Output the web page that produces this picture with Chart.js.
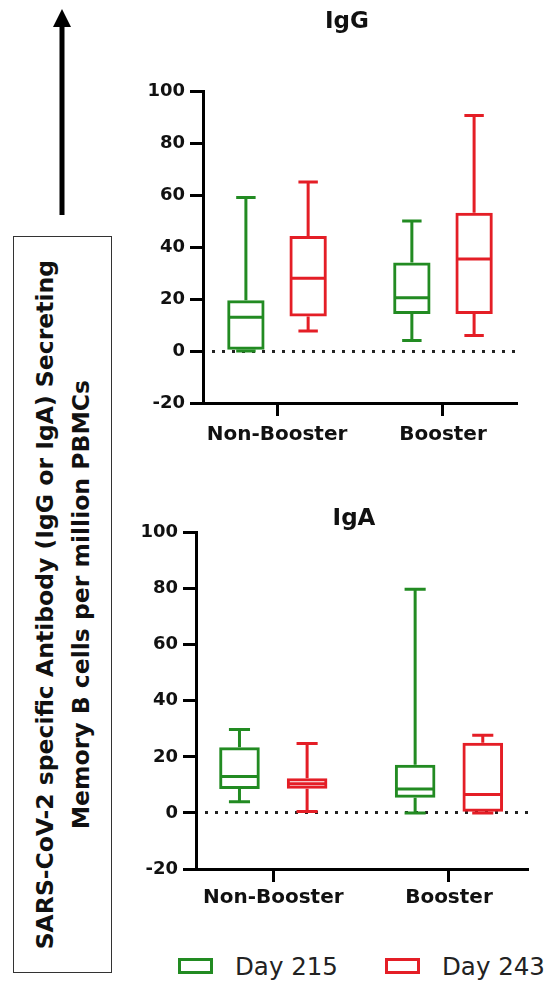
<!DOCTYPE html>
<html>
<head>
<meta charset="utf-8">
<script src="https://cdn.jsdelivr.net/npm/chart.js@4.4.1/dist/chart.umd.min.js"></script>
<style>
    body { margin: 0; width: 550px; height: 984px; background: #fff; position: relative; overflow: hidden; font-family: "DejaVu Sans", sans-serif; }
    canvas { position: absolute; }
    #chartIgG { left: 140px; top: 0px; }
    #chartIgA { left: 130px; top: 480px; }
    #arrow { position: absolute; left: 0; top: 0; }
    #axisNote {
        position: absolute; left: 13px; top: 236px; width: 99px; height: 737px;
        box-sizing: border-box; border: 1.5px solid #333;
        display: flex; align-items: center; justify-content: center;
    }
    #axisNote span {
        writing-mode: vertical-rl; transform: rotate(180deg);
        font-weight: bold; font-size: 23.5px; line-height: 36px; color: #111; text-align: center; white-space: nowrap;
    }
    .legend-item { position: absolute; top: 952px; height: 28px; display: flex; align-items: center; font-size: 24.5px; color: #222; }
    .legend-box { width: 35px; height: 16px; box-sizing: border-box; border: 3px solid; margin-right: 22px; }
</style>
</head>
<body>
<svg id="arrow" width="130" height="230">
    <line x1="62" y1="215" x2="62" y2="24" stroke="#000" stroke-width="5"/>
    <polygon points="53,27 71,27 62,9" fill="#000"/>
</svg>
<div id="axisNote"><span>SARS-CoV-2 specific Antibody (IgG or IgA) Secreting<br>Memory B cells per million PBMCs</span></div>

<canvas id="chartIgG" width="390" height="454"></canvas>
<canvas id="chartIgA" width="410" height="434"></canvas>

<div class="legend-item" style="left:178px"><div class="legend-box" id="box215"></div><span id="lab215"></span></div>
<div class="legend-item" style="left:385px"><div class="legend-box" id="box243"></div><span id="lab243"></span></div>

<script>
const groups = ['Non-Booster', 'Booster'];
const days = ['Day 215', 'Day 243'];
const yTicks = [-20, 0, 20, 40, 60, 80, 100];

// box summaries per group: [min, q1, median, q3, max]
const igGDay215 = [[0, 0.5, 13, 19.5, 59], [4, 14.2, 20.5, 34, 50]];
const igGDay243 = [[7.7, 13.3, 28, 44.2, 65], [6, 14.2, 35.4, 53.2, 90.6]];
const igADay215 = [[4, 8.5, 13, 23.4, 29.8], [0, 5.4, 8.5, 17.2, 79.8]];
const igADay243 = [[0.5, 8.6, 10.4, 12.4, 24.8], [0, 0.4, 6.6, 25, 27.7]];

const GREEN = '#228B22';
const RED = '#E41E26';
const INK = '#111';

// median line + whiskers on top of the floating bars
const boxWhiskers = {
    id: 'boxWhiskers',
    afterDatasetsDraw(chart) {
        const ctx = chart.ctx;
        const yScale = chart.scales.y;
        chart.data.datasets.forEach((ds, di) => {
            const meta = chart.getDatasetMeta(di);
            meta.data.forEach((bar, i) => {
                const [min, q1, med, q3, max] = ds.stats[i];
                const half = bar.width / 2 - ds.borderWidth / 2;
                const cap = bar.width * 0.26;
                const py = (v) => yScale.getPixelForValue(v);
                ctx.save();
                ctx.strokeStyle = ds.borderColor;
                ctx.lineWidth = ds.borderWidth;
                ctx.beginPath();
                ctx.moveTo(bar.x - half, py(med));
                ctx.lineTo(bar.x + half, py(med));
                ctx.moveTo(bar.x, py(q3));
                ctx.lineTo(bar.x, py(max));
                ctx.moveTo(bar.x - cap, py(max));
                ctx.lineTo(bar.x + cap, py(max));
                ctx.moveTo(bar.x, py(q1));
                ctx.lineTo(bar.x, py(min));
                ctx.moveTo(bar.x - cap, py(min));
                ctx.lineTo(bar.x + cap, py(min));
                ctx.stroke();
                ctx.restore();
            });
        });
    }
};

// the original titles sit a little off the centre of the canvas
const titleNudge = {
    id: 'titleNudge',
    afterLayout(chart, args, opts) {
        const t = chart.titleBlock;
        if (t) {
            t.left += opts.dx;
            t.right += opts.dx;
        }
    }
};

const toBoxes = (stats) => stats.map((s, i) => ({x: i, y: [s[1], s[3]]}));

const makeDataset = (label, stats, color) => ({
    label: label,
    stats: stats,
    data: toBoxes(stats),
    borderColor: color,
    backgroundColor: 'rgba(0,0,0,0)',
    borderWidth: 3,
    borderSkipped: false
});

const renderBoxChart = (id, title, series215, series243, cfg) => {
    const ctx = document.getElementById(id);
    new Chart(ctx, {
        type: 'bar',
        data: {
            datasets: [
                makeDataset(days[0], series215, GREEN),
                makeDataset(days[1], series243, RED)
            ]
        },
        options: {
            responsive: false,
            animation: false,
            devicePixelRatio: 1,
            categoryPercentage: cfg.catPct,
            barPercentage: 0.6,
            layout: {padding: cfg.padding},
            plugins: {
                legend: {display: false},
                tooltip: {enabled: false},
                titleNudge: {dx: cfg.titleShift},
                title: {
                    display: true,
                    text: title,
                    color: INK,
                    font: {family: 'DejaVu Sans', size: 23, weight: 'bold'},
                    padding: cfg.titlePadding
                }
            },
            scales: {
                x: {
                    type: 'linear',
                    min: cfg.xMin,
                    max: cfg.xMax,
                    bounds: 'data',
                    offset: false,
                    afterBuildTicks: (scale) => {
                        scale.ticks = groups.map((g, i) => ({value: i}));
                    },
                    ticks: {
                        callback: (value) => groups[value],
                        color: INK,
                        font: {family: 'DejaVu Sans', size: 20, weight: 'bold'},
                        padding: cfg.xPad,
                        maxRotation: 0,
                        autoSkip: false
                    },
                    grid: {offset: false, drawOnChartArea: false, tickLength: 13, tickWidth: 3, tickColor: '#000'},
                    border: {width: 3, color: '#000'}
                },
                y: {
                    min: yTicks[0],
                    max: yTicks[yTicks.length - 1],
                    afterBuildTicks: (scale) => {
                        scale.ticks = yTicks.map((v) => ({value: v}));
                    },
                    afterFit: (scale) => {
                        scale.width = 56;
                    },
                    ticks: {
                        color: INK,
                        font: {family: 'DejaVu Sans', size: 18, weight: 'bold'},
                        padding: 5
                    },
                    grid: {
                        // only the zero line is shown, dotted
                        color: (c) => (c.tick && c.tick.value === 0 ? '#222' : 'rgba(0,0,0,0)'),
                        lineWidth: 3,
                        tickLength: 13,
                        tickWidth: 3,
                        tickColor: '#000'
                    },
                    border: {width: 3, color: '#000', dash: [3, 7], dashOffset: 3}
                }
            }
        },
        plugins: [boxWhiskers, titleNudge]
    });
};

renderBoxChart('chartIgG', 'IgG', igGDay215, igGDay243, {
    catPct: 0.75,
    padding: {left: 7, right: 13, top: 0, bottom: 0},
    titlePadding: {top: 8, bottom: 55.4},
    titleShift: 15,
    xMin: -0.446, xMax: 1.446,
    xPad: 7
});

renderBoxChart('chartIgA', 'IgA', igADay215, igADay243, {
    catPct: 0.77,
    padding: {left: 10, right: 12, top: 0, bottom: 0},
    titlePadding: {top: 25, bottom: 0},
    titleShift: 20,
    xMin: -0.44, xMax: 1.45,
    xPad: 4
});

document.getElementById('box215').style.borderColor = GREEN;
document.getElementById('box243').style.borderColor = RED;
document.getElementById('lab215').textContent = days[0];
document.getElementById('lab243').textContent = days[1];
</script>
</body>
</html>
